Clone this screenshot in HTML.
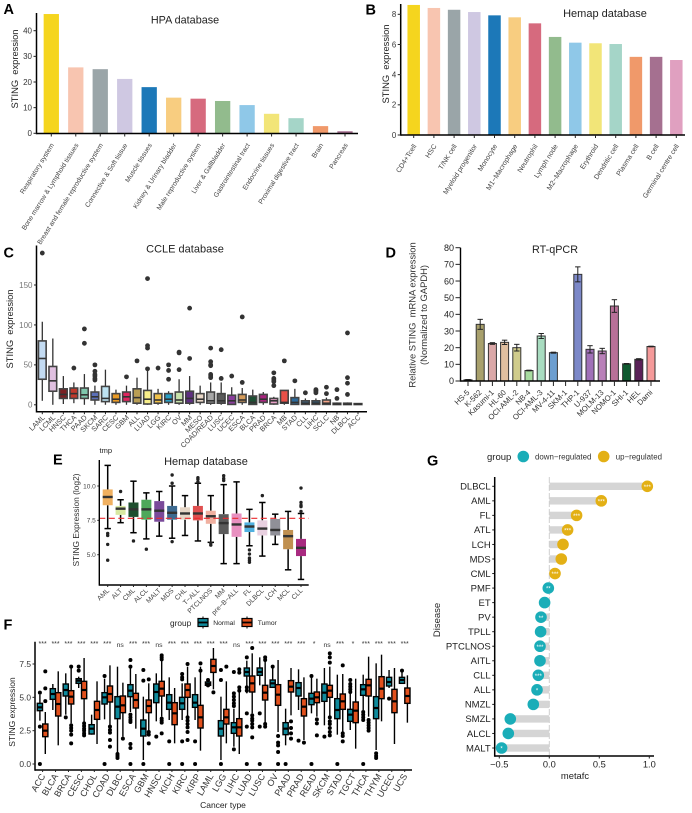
<!DOCTYPE html>
<html lang="en">
<head>
<meta charset="utf-8">
<title>STING expression figure</title>
<style>
html,body{margin:0;padding:0;background:#fff;}
svg{display:block;font-family:"Liberation Sans",Arial,sans-serif;}
.panel-letter{font-size:14.5px;font-weight:bold;fill:#000;}
</style>
</head>
<body>
<svg id="figure" xmlns="http://www.w3.org/2000/svg" width="692" height="813" viewBox="0 0 692 813">
  <rect x="0" y="0" width="692" height="813" fill="#ffffff"/>

  <text class="panel-letter" x="3.5" y="14">A</text>
  <text class="panel-letter" x="365.5" y="14.5">B</text>
  <text class="panel-letter" x="3.5" y="257.5">C</text>
  <text class="panel-letter" x="385.5" y="257.5">D</text>
  <text class="panel-letter" x="53" y="464.5">E</text>
  <text class="panel-letter" x="3.5" y="629.5">F</text>
  <text class="panel-letter" x="427" y="465.5">G</text>

  <g id="panel-a">
    <text x="185" y="23.5" font-size="10.8" fill="#222" text-anchor="middle">HPA database</text>
    <text transform="translate(18,69) rotate(-90)" font-size="9.35" fill="#222" text-anchor="middle" xml:space="preserve">STING  expression</text>
  </g>
  <g id="panel-b">
    <text x="605" y="17" font-size="11" fill="#222" text-anchor="middle">Hemap database</text>
    <text transform="translate(389,64) rotate(-90)" font-size="9.35" fill="#222" text-anchor="middle" xml:space="preserve">STING  expression</text>
  </g>
  <g id="panel-c">
    <text x="185" y="252.7" font-size="11" fill="#222" text-anchor="middle">CCLE database</text>
    <text transform="translate(13,329) rotate(-90)" font-size="9.35" fill="#222" text-anchor="middle" xml:space="preserve">STING  expression</text>
  </g>
  <g id="panel-d">
    <text x="555" y="253" font-size="10.8" fill="#222" text-anchor="middle">RT-qPCR</text>
    <text transform="translate(415.5,315) rotate(-90)" font-size="9.4" fill="#333" text-anchor="middle" xml:space="preserve">Relative STING  mRNA expression</text>
    <text transform="translate(427,315) rotate(-90)" font-size="9.4" fill="#333" text-anchor="middle">(Normalized to GAPDH)</text>
  </g>
  <g id="panel-e">
    <text x="99.5" y="453" font-size="7.5" fill="#222">tmp</text>
    <text x="206" y="465" font-size="11" fill="#222" text-anchor="middle">Hemap database</text>
    <text transform="translate(79,520) rotate(-90)" font-size="8.4" fill="#333" text-anchor="middle">STING Expression (log2)</text>
  </g>
  <g id="panel-f">
    <text x="170" y="626" font-size="8.3" fill="#222">group</text>
    <g>
      <line x1="203" y1="616.5" x2="203" y2="628.5" stroke="#000" stroke-width="1"/>
      <rect x="198" y="618.5" width="10" height="8" fill="#0f8a9c" stroke="#000" stroke-width="1.2"/>
      <line x1="198" y1="622.5" x2="208" y2="622.5" stroke="#000" stroke-width="1.8"/>
      <text x="213.3" y="625" font-size="6.7" fill="#222">Normal</text>
    </g>
    <g>
      <line x1="247" y1="616.5" x2="247" y2="628.5" stroke="#000" stroke-width="1"/>
      <rect x="242" y="618.5" width="10" height="8" fill="#e2501c" stroke="#000" stroke-width="1.2"/>
      <line x1="242" y1="622.5" x2="252" y2="622.5" stroke="#000" stroke-width="1.8"/>
      <text x="257.7" y="625" font-size="6.7" fill="#222">Tumor</text>
    </g>
    <text transform="translate(15,712) rotate(-90)" font-size="8.5" fill="#222" text-anchor="middle">STING expression</text>
    <text x="223" y="808" font-size="8.5" fill="#222" text-anchor="middle">Cancer type</text>
  </g>
  <g id="panel-g">
    <text x="487" y="460" font-size="9.5" fill="#222">group</text>
    <g>
      <circle cx="523.3" cy="456.5" r="5.8" fill="#1aadb8"/>
      <text x="535" y="459.5" font-size="7.9" fill="#333">down−regulated</text>
    </g>
    <g>
      <circle cx="603.7" cy="456.5" r="5.8" fill="#e3b015"/>
      <text x="615.7" y="459.5" font-size="7.9" fill="#333">up−regulated</text>
    </g>
    <text transform="translate(440,620) rotate(-90)" font-size="9.5" fill="#222" text-anchor="middle">Disease</text>
    <text x="575" y="779" font-size="9.4" fill="#222" text-anchor="middle">metafc</text>
  </g>
</svg>

<script>
/* ---------- Panel A data ---------- */
const hpaCategories = ["Respiratory system","Bone marrow & Lymphoid tissues","Breast and female reproductive system","Connective & Soft tissue","Muscle tissues","Kidney & Urinary bladder","Male reproductive system","Liver & Gallbladder","Gastrointestinal tract","Endocrine tissues","Proximal digestive tract","Brain","Pancreas"];
const hpaValues = [46.5,25.7,25,21.2,18,13.9,13.5,12.6,11,7.6,5.9,2.8,0.8];
const hpaTicks = [0,10,20,30,40];

/* ---------- Panel B data ---------- */
const hemapCellCategories = ["CD4+Tcell","HSC","T/NK cell","Myeloid progenitor","Monocyte","M1−Macrophage","Neutrophil","Lymph node","M2−Macrophage","Erythroid","Dendritic cell","Plasma cell","B cell","Germinal centre cell"];
const hemapCellValues = [8.62,8.42,8.3,8.15,7.93,7.8,7.4,6.5,6.12,6.08,6.03,5.18,5.18,4.97];
const hemapCellTicks = [0,2,4,6,8];

/* ---------- Panel C data ---------- */
const ccleCategories = ["LAML","LCML","HNSC","THCA","PAAD","SKCM","SARC","CESC","GBM","ALL","LUAD","LGG","KIRC","OV","MM","MESO","COAD/READ","LUSC","UCEC","ESCA","BLCA","PRAD","BRCA","MB","STAD","CLL","LIHC","SCLC","NB","DLBCL","ACC"];
const ccleWhiskerLow  = [5,0,1,2,0,0,0,0,0,0,0,0,0,0,0,0,0,0,0,0,0,0,0,0,0,0,0,0,0,0,0];
const ccleQ1          = [32,17,8,8,8,6,4,3,4,2,1,2,3,2,2,3,2,2,0.5,3,0.5,3,1,2,0.5,0.5,0.5,0.5,0.3,0.3,0.3];
const ccleMedian      = [58,30,13,14,12.5,10,8,7,10,9,7,6,7,6,8,7,5,5,5,6,3,7,5,3,3,2,2,2,1,0.8,0.8];
const ccleQ3          = [80,48,20,21,21,16,23,14,16,20,18,14,14,16,17,14,16,14,12,13,11,13,8,18,9,5,5,6,2,2,1.5];
const ccleWhiskerHigh = [104,83,36,28,38.5,24,44,19,24,34,45,20,17,32,36,24,28,28,22,21,19,16,10,18,20,8,8,9,3,3,2];
const ccleOutliers    = [[190],[],[],[46],[95,77],[50,42,38,36,33,31],[],[],[35],[55],[158,74,71,45],[46],[50,43,32],[66,65,44],[121,58],[],[71,54,50,49,38,36,34],[69,33],[36],[110,28],[],[],[40,33,31,29,24],[55],[30],[15],[19,18,17,15],[22,14],[19,8],[90,34,27,13],[]];
const ccleTicks = [0,50,100,150];

/* ---------- Panel D data ---------- */
const qpcrCategories = ["HS-5","K-562","Kasumi-1","HL-60","OCI-AML-2","NB-4","OCI-AML-3","MV-4-11","SKM-1","THP-1","U-937","MOLM-13","NOMO-1","SHI-1","HEL","Dami"];
const qpcrValues = [0.7,34,22.5,23.2,20,6.3,27,17,0,64,19,18,45,10.3,13,20.7];
const qpcrErrors = [0.2,3,0.5,1.3,2,0.2,1.5,0.3,0,4.5,2.2,1.6,3.8,0.2,0.4,0.2];
const qpcrTicks = [0,10,20,30,40,50,60,70,80];

/* ---------- Panel E data ---------- */
const hemapCategories = ["AML","ALT","CML","ALCL","MALT","MDS","CHL","T−ALL","PTCLNOS","MM","pre−B−ALL","FL","DLBCL","LCH","MCL","CLL"];
const hemapWhiskerLow  = [6.9,7.33,6.6,6.15,6.35,6.2,6.4,6,5.9,4.35,4.35,5.65,4.9,5.75,3.9,3.2];
const hemapQ1          = [8.6,7.9,7.75,7.55,7.4,7.55,7.55,7.5,7.25,6.5,6.3,6.65,6.4,6.4,5.4,4.9];
const hemapMedian      = [9.2,8.35,8.3,8.3,8.2,8.05,8,8,7.8,7.3,7.2,7.05,6.9,6.8,6.35,5.5];
const hemapQ3          = [9.75,8.55,8.8,9,8.9,8.55,8.45,8.55,8.2,7.95,8,7.35,7.5,7.6,6.8,6.15];
const hemapWhiskerHigh = [11.5,9,10.35,9.5,9.6,10,9.3,10.2,9.3,10.1,10.3,8.3,8.8,7.95,8.15,8];
const hemapOutliers    = [[6.55,6.4,5.75,4.6],[9.6],[6],[5.4],[],[5.95,10.2,10.8],[],[10.6,10.5,10.3],[5.7,5.85],[10.75,10.55,10.4],[],[5.35,5.05,4.75,4.6,4.45],[9.3],[],[],[9.85,8.8,8.6,8.5,8.15]];
const hemapReference = [7.65];
const hemapTicks = [5,7.5,10];
const hemapTickLabels = ["5.0","7.5","10.0"];

/* ---------- Panel F data ---------- */
const tcgaCategories = ["ACC","BLCA","BRCA","CESC","CHOL","COAD","DLBC","ESCA","GBM","HNSC","KICH","KIRC","KIRP","LAML","LGG","LIHC","LUAD","LUSC","OV","PAAD","PRAD","READ","SKCM","STAD","TGCT","THCA","THYM","UCEC","UCS"];
const tcgaSignificance = ["***","***","***","***","***","***","ns","***","***","ns","***","***","***","***","***","ns","***","***","***","***","***","*","ns","***","*","***","***","***","***"];
const normalWhiskerLow  = [3.25,4.05,3.7,5.7,2.2,3.35,0.75,3.9,0.3,3.2,3.3,3.3,3.3,5.85,0.3,1.3,5.3,5.9,5.7,1.4,4.05,3.8,2.9,2.2,2.55,4.05,1.05,5.7,6.05];
const normalQ1          = [4,4.85,5.1,6.05,2.25,4.5,3.4,5.05,2.1,4.6,4.1,4.1,4.25,5.9,2.1,2.3,6.6,6.65,5.75,2.2,5.1,4.45,4.7,3.4,3.2,5.15,3.4,5.85,6.05];
const normalMedian      = [4.25,5.25,5.55,6.25,2.65,5,4.3,5.5,2.65,5.4,4.6,4.55,4.6,6,2.65,2.75,6.9,6.9,6.05,2.65,5.7,4.9,5.35,4.05,3.7,5.6,4.2,6.15,6.3];
const normalQ3          = [4.55,5.65,6,6.4,2.95,5.35,5.05,5.95,3.3,6,5.2,5,5.2,6.15,3.25,3.1,7.2,7.2,6.3,3.1,6.1,5.3,6,4.9,4.1,5.95,5.05,6.5,6.5];
const normalWhiskerHigh = [5.2,6,6.8,6.55,3.7,6.4,7.3,7.3,5.05,6.8,6.5,6.05,6.5,6.3,5.05,4.15,7.75,8,7.2,4.15,7.1,6.55,7.2,6.7,5.3,6.7,7.55,7.05,7];
const normalOutliers    = [[5.35,2.8,0],[],[3.5],[7.3,7],[],[6.6,0],[0.75,0.6,0.45],[7.8,7.3,3.7,3.5,3.3,3.15,1.5,1.2,0],[7.05,6.25,0],[2.05],[1.7,0],[6.75,6.5,6.35,1.7,0],[1.7,0],[6.3,6,5.9],[7.05,6.3,0],[6.9,5.3,5.05,4.8,4.55,4.35,1.1],[8,5.75,5.5,3.8,2.8,0],[3.8,2.8,0],[7.3],[0],[1.75],[6.6,0],[2.05],[0],[6.3,6,5.8,5.6,5.4],[3.9,3.7,3.5,3.3,0],[0.8,0.6,0.45],[4.9],[7]];
const tumorWhiskerLow   = [0.75,1.4,3.05,3.1,1.5,2.9,2.05,2.65,2.4,3.55,1.55,3.55,1,5.6,1.55,0.75,3.8,3,2.4,3.65,1.8,3.55,3.55,2.4,1.15,3.55,3.2,1.5,3.1];
const tumorQ1           = [2.05,3.6,4.5,4.9,3.35,4.65,3.85,4.2,3.85,5.1,2.95,5,2.7,6.87,3,2.1,5.4,4.8,4.4,5.4,3.6,4.6,5,4.1,3.1,5.1,4.9,3.85,4.55];
const tumorMedian       = [2.5,4.5,5.05,5.55,4.05,5.25,4.4,4.8,4.35,5.65,3.8,5.55,3.5,7.35,3.5,2.75,6.05,5.35,5.2,5.8,4.3,5,5.5,4.7,4,5.9,5.65,4.7,5.1];
const tumorQ3           = [3,5.35,5.5,6.2,4.7,5.85,5.1,5.3,4.8,6.2,4.6,6,4.4,7.85,4.1,3.4,6.6,5.9,5.95,6.25,4.9,5.4,5.9,5.25,4.65,6.35,6.55,5.6,5.7];
const tumorWhiskerHigh  = [3.9,6.95,7.3,7.95,6.2,7.4,6.1,6.75,6.05,7.8,5.7,7.3,7.3,8.7,6.2,5.6,8.3,7.7,7.8,7.2,6.5,6.4,7.3,6.75,6.4,8.05,8.2,7.2,6.65];
const tumorOutliers     = [[6.95,5.67,4.72],[],[7.3,2.9,2.7,2.5,2.2,1.55],[3.05,2.85,2.65,2.5,2.3,2.15],[],[2.8,2.55,2.35,1.8,1.3],[1.9],[],[6.35,2.4,2.2,1.55],[8.15,8,7.85,3.4,3.25,3.1,2.3],[],[7.5,3.5,3.25,3,2.75,2.4,1.8],[7.55,7],[5.37],[7.3],[7.1,6.85,5.75,5.5],[8.7,3.65,3.4,3.25,3,2.75,2],[8,7.8,3,2.8],[2.1,1.6,1.4,0.9,0],[6.1,5.9,5.65,3.2,2.7,2.3,1.9],[1.6],[3.35,3.05,2.15],[8.3,8,7.6,3.5,3.2,3,2.7,2.4,2.15],[7.4,2.3,2.1,1.7],[],[3.3,3.1,2.9,2.7,2.5],[],[4.9],[4.9]];
const tcgaTicks = [0,2.5,5,7.5];
const tcgaTickLabels = ["0.0","2.5","5.0","7.5"];

/* ---------- Panel G data ---------- */
const metaDiseases = ["DLBCL","AML","FL","ATL","LCH","MDS","CML","PMF","ET","PV","TPLL","PTCLNOS","AITL","CLL","ALL","NMZL","SMZL","ALCL","MALT"];
const metaValues = [0.98,0.52,0.273,0.183,0.137,0.12,0.057,-0.01,-0.047,-0.083,-0.087,-0.093,-0.093,-0.11,-0.123,-0.16,-0.39,-0.41,-0.477];
const metaSignificance = ["***","***","***","***","","","***","**","","**","","***","","***","*","","","","*"];
const metaTicks = [-0.5,0,0.5,1];
const metaTickLabels = ["−0.5","0.0","0.5","1.0"];

/* ---------- Palettes (styling only) ---------- */
const barPalette = ["#f5d51e","#f8c5b0","#9aa5a8","#cfc8e2","#1c78b8","#f8cd80","#d66a7e","#92bb8d","#8fc8e8","#f2e578","#a5d5c8","#f0996a","#a57090","#e0a0c0"];
const cclePalette = ["#c3dbf2","#e0c0e0","#7a1f22","#c0392b","#7fc7ad","#5b6fb8","#bde3f2","#e99a25","#e0265f","#b89e55","#f7ee8a","#f0c24a","#2a9fc5","#c8e2aa","#5e2f80","#ead8c8","#a6a6a6","#5a5a5a","#8a3d9c","#d59b5a","#1d4f33","#a8247e","#e8a0c8","#e85048","#2b6a9c","#3d6a8a","#2d5a7a","#f5a488","#555","#555","#555"];
const qpcrPalette = ["#222","#a8a06c","#dba8a8","#e0bfa0","#d0cc8c","#a8dca0","#a8dcc0","#6c9ed0","#fff","#7c88c8","#a070b8","#b880b8","#b87098","#0f5a30","#5a2058","#f59a9a"];
const hemapPalette = ["#f0b060","#d8e8a0","#1f4f2f","#4ea85a","#7a4a9a","#3d6a90","#e6d6c6","#e05050","#f0b0a0","#5a5a5a","#e890c0","#50b0e0","#e8d0e0","#909098","#c09050","#a82a80"];

/* ---------- Helpers ---------- */
const NS = "http://www.w3.org/2000/svg";
function linearScale(d0, d1, r0, r1) {
  return function (v) { return r0 + (v - d0) * (r1 - r0) / (d1 - d0); };
}
function bandScale(count, first, last) {
  return function (i) { return count > 1 ? first + i * (last - first) / (count - 1) : first; };
}
function mk(parent, tag, attrs) {
  const n = document.createElementNS(NS, tag);
  for (const k in attrs) n.setAttribute(k, attrs[k]);
  parent.appendChild(n);
  return n;
}
function addLine(parent, x1, y1, x2, y2, stroke, width, name) {
  const el = mk(parent, "line", { x1: x1, y1: y1, x2: x2, y2: y2, stroke: stroke, "stroke-width": width });
  
  
  return el;
}
function addRect(parent, x, y, w, h, fill, stroke, sw, name) {
  const el = mk(parent, "rect", { x: x, y: y, width: w, height: Math.max(h, 0), fill: fill, stroke: stroke, "stroke-width": sw });
  
  
  return el;
}
function addDot(parent, cx, cy, r, fill, name) {
  const el = mk(parent, "circle", { cx: cx, cy: cy, r: r, fill: fill });
  
  
  return el;
}
function addText(parent, x, y, str, size, fill, anchor, rot, name) {
  const el = mk(parent, "text", { x: x, y: y, "font-size": size, fill: fill, "text-anchor": anchor });
  if (rot) el.setAttribute("transform", "rotate(" + rot + " " + x + " " + y + ")");
  el.textContent = str;
  
  
  return el;
}
function slug(s) { return String(s).toLowerCase().replace(/[^a-z0-9]+/g, "-"); }

/* Axis drawing */
function drawAxes(g, o, yScale, ticks, labels, xPos, cats) {
  addLine(g, o.x0, o.yTop, o.x0, o.y0 + o.lw / 2, "#000", o.lw, o.key + "-y-axis-line");
  addLine(g, o.x0, o.y0, o.x1, o.y0, "#000", o.lw, o.key + "-x-axis-line");
  ticks.forEach(function (t, i) {
    const y = yScale(t);
    addLine(g, o.x0 - o.tick, y, o.x0, y, "#222", 1, o.key + "-y-tick-mark");
    addText(g, o.x0 - o.tick - 1.5, y + o.tickFont * 0.36, labels ? labels[i] : t, o.tickFont, o.tickFill, "end", 0, o.key + "-y-tick-label");
  });
  cats.forEach(function (c, i) {
    const x = xPos(i);
    addLine(g, x, o.y0, x, o.y0 + o.xTick, "#222", 1, o.key + "-x-tick-mark");
    addText(g, x + o.labDx, o.labY, c, o.labFont, o.labFill, "end", o.labRot, o.key + "-label-" + slug(c));
  });
}

function drawBarPanel(g, o, cats, vals, yScale, xPos, ticks) {
  vals.forEach(function (v, i) {
    const y = yScale(v);
    addRect(g, xPos(i) - o.barW / 2, y, o.barW, yScale(0) - y, barPalette[i], "none", 0, o.key + "-bar-" + slug(cats[i]));
  });
  drawAxes(g, o, yScale, ticks, null, xPos, cats);
}

/* One box glyph */
function drawBox(g, x, w, s, yScale, st, name) {
  addLine(g, x, yScale(s.low), x, yScale(s.q1), st.whisker, st.whiskerW, name + "-lower-whisker");
  addLine(g, x, yScale(s.q3), x, yScale(s.high), st.whisker, st.whiskerW, name + "-upper-whisker");
  if (st.cap) {
    addLine(g, x - st.cap, yScale(s.low), x + st.cap, yScale(s.low), st.whisker, st.whiskerW, name + "-lower-cap");
    addLine(g, x - st.cap, yScale(s.high), x + st.cap, yScale(s.high), st.whisker, st.whiskerW, name + "-upper-cap");
  }
  (s.out || []).forEach(function (v) {
    addDot(g, x, yScale(v), st.r, st.dot, name + "-outlier");
  });
  addRect(g, x - w / 2, yScale(s.q3), w, yScale(s.q1) - yScale(s.q3), s.fill, st.edge, st.edgeW, name + "-box");
  addLine(g, x - w / 2, yScale(s.med), x + w / 2, yScale(s.med), st.median, st.medianW, name + "-median");
}

/* ---------- Panel A ---------- */
(function () {
  const g = document.getElementById("panel-a");
  const o = { key: "hpa", x0: 36.5, x1: 358, y0: 133.5, yTop: 13, lw: 1.5, tick: 3, xTick: 3, tickFont: 8, tickFill: "#333", labDx: 3, labY: 145, labFont: 6.8, labFill: "#444", labRot: -58, barW: 15.3 };
  const yScale = linearScale(0, 40, 133.3, 30.7);
  const xPos = bandScale(hpaCategories.length, 51.3, 345);
  drawBarPanel(g, o, hpaCategories, hpaValues, yScale, xPos, hpaTicks);
})();

/* ---------- Panel B ---------- */
(function () {
  const g = document.getElementById("panel-b");
  const o = { key: "hemap-cell", x0: 400.7, x1: 685, y0: 135, yTop: 4, lw: 1.5, tick: 3, xTick: 3, tickFont: 7.8, tickFill: "#333", labDx: 3, labY: 146, labFont: 7, labFill: "#444", labRot: -58, barW: 12.5 };
  const yScale = linearScale(0, 8, 135, 14.3);
  const xPos = bandScale(hemapCellCategories.length, 413.7, 676.3);
  drawBarPanel(g, o, hemapCellCategories, hemapCellValues, yScale, xPos, hemapCellTicks);
})();

/* ---------- Panel C ---------- */
(function () {
  const g = document.getElementById("panel-c");
  const o = { key: "ccle", x0: 36.5, x1: 367, y0: 411.7, yTop: 245.5, lw: 1.5, tick: 2.5, xTick: 2.5, tickFont: 8, tickFill: "#777", labDx: 3, labY: 418, labFont: 7.2, labFill: "#444", labRot: -45 };
  const yScale = linearScale(0, 150, 404.8, 285);
  const xPos = bandScale(ccleCategories.length, 42.3, 358);
  const st = { whisker: "#333", whiskerW: 1.3, edge: "#444", edgeW: 1.6, median: "#333", medianW: 1.6, dot: "#333", r: 2.4 };
  ccleCategories.forEach(function (c, i) {
    drawBox(g, xPos(i), 7.7, { low: ccleWhiskerLow[i], q1: ccleQ1[i], med: ccleMedian[i], q3: ccleQ3[i], high: ccleWhiskerHigh[i], out: ccleOutliers[i], fill: cclePalette[i] }, yScale, st, "ccle-" + slug(c));
  });
  drawAxes(g, o, yScale, ccleTicks, null, xPos, ccleCategories);
})();

/* ---------- Panel D ---------- */
(function () {
  const g = document.getElementById("panel-d");
  const o = { key: "qpcr", x0: 460.5, x1: 660, y0: 381, yTop: 247.7, lw: 1.4, tick: 5, xTick: 5, tickFont: 9, tickFill: "#222", labDx: 2, labY: 393, labFont: 7.7, labFill: "#333", labRot: -45 };
  const yScale = linearScale(0, 80, 381, 247.7);
  const xPos = bandScale(qpcrCategories.length, 468, 651);
  qpcrValues.forEach(function (v, i) {
    const x = xPos(i);
    const nm = "qpcr-" + slug(qpcrCategories[i]);
    if (v > 0) addRect(g, x - 4, yScale(v), 8, yScale(0) - yScale(v), qpcrPalette[i], "#333", 1, nm + "-bar");
    if (qpcrErrors[i] > 0) {
      addLine(g, x, yScale(v - qpcrErrors[i]), x, yScale(v + qpcrErrors[i]), "#222", 1, nm + "-error-bar");
      addLine(g, x - 2.7, yScale(v + qpcrErrors[i]), x + 2.7, yScale(v + qpcrErrors[i]), "#222", 1, nm + "-error-cap-upper");
      addLine(g, x - 2.7, yScale(v - qpcrErrors[i]), x + 2.7, yScale(v - qpcrErrors[i]), "#222", 1, nm + "-error-cap-lower");
    }
  });
  drawAxes(g, o, yScale, qpcrTicks, null, xPos, qpcrCategories);
})();

/* ---------- Panel E ---------- */
(function () {
  const g = document.getElementById("panel-e");
  const o = { key: "hemap-disease", x0: 99.3, x1: 308.7, y0: 585, yTop: 460, lw: 1.4, tick: 2, xTick: 2, tickFont: 6.5, tickFill: "#444", labDx: 2, labY: 591, labFont: 6.8, labFill: "#444", labRot: -45 };
  const yScale = linearScale(5, 10, 554.7, 486);
  const xPos = bandScale(hemapCategories.length, 107.7, 301);
  const st = { whisker: "#000", whiskerW: 1.5, cap: 3.2, edge: "none", edgeW: 0, median: "#333", medianW: 2.4, dot: "#222", r: 1.7 };
  hemapCategories.forEach(function (c, i) {
    drawBox(g, xPos(i), 10, { low: hemapWhiskerLow[i], q1: hemapQ1[i], med: hemapMedian[i], q3: hemapQ3[i], high: hemapWhiskerHigh[i], out: hemapOutliers[i], fill: hemapPalette[i] }, yScale, st, "hemap-" + slug(c));
  });
  const ref = addLine(g, o.x0, yScale(hemapReference[0]), o.x1, yScale(hemapReference[0]), "#ea2a2e", 1.2, "hemap-reference-dashed-line");
  ref.setAttribute("stroke-dasharray", "6 3.5");
  drawAxes(g, o, yScale, hemapTicks, hemapTickLabels, xPos, hemapCategories);
})();

/* ---------- Panel F ---------- */
(function () {
  const g = document.getElementById("panel-f");
  const o = { key: "tcga", x0: 35, x1: 412, y0: 770, yTop: 641.7, lw: 1.5, tick: 2.5, xTick: 2, tickFont: 8.4, tickFill: "#333", labDx: 3, labY: 776, labFont: 9, labFill: "#333", labRot: -60 };
  const yScale = linearScale(0, 7.5, 764, 664);
  const xPos = bandScale(tcgaCategories.length, 42.6, 404.7);
  const st = { whisker: "#000", whiskerW: 1.4, edge: "#000", edgeW: 1.4, median: "#000", medianW: 2.2, dot: "#000", r: 2 };
  tcgaCategories.forEach(function (c, i) {
    const x = xPos(i);
    drawBox(g, x - 2.7, 5.2, { low: normalWhiskerLow[i], q1: normalQ1[i], med: normalMedian[i], q3: normalQ3[i], high: normalWhiskerHigh[i], out: normalOutliers[i], fill: "#0f8a9c" }, yScale, st, "tcga-normal-" + slug(c));
    drawBox(g, x + 2.7, 5.2, { low: tumorWhiskerLow[i], q1: tumorQ1[i], med: tumorMedian[i], q3: tumorQ3[i], high: tumorWhiskerHigh[i], out: tumorOutliers[i], fill: "#e2501c" }, yScale, st, "tcga-tumor-" + slug(c));
    const sig = tcgaSignificance[i];
    addText(g, x, sig === "ns" ? 647 : 646, sig, sig === "ns" ? 6.8 : 7, "#333", "middle", 0, "tcga-significance-" + slug(c));
  });
  drawAxes(g, o, yScale, tcgaTicks, tcgaTickLabels, xPos, tcgaCategories);
})();

/* ---------- Panel G ---------- */
(function () {
  const g = document.getElementById("panel-g");
  const xScale = linearScale(0, 1, 549.3, 649.3);
  const rowY = bandScale(metaDiseases.length, 486.3, 748);
  const x0 = 494.7, yTop = 477, y0 = 756, x1 = 654;
  metaValues.forEach(function (v, i) {
    const a = Math.min(xScale(0), xScale(v));
    const b = Math.max(xScale(0), xScale(v));
    addRect(g, a, rowY(i) - 3.7, b - a, 7.4, "#d5d5d5", "none", 0, "metafc-bar-" + slug(metaDiseases[i]));
  });
  const zero = addLine(g, xScale(0), yTop, xScale(0), y0, "#cfcfcf", 1, "metafc-zero-reference-line");
  zero.setAttribute("stroke-dasharray", "6 2");
  metaValues.forEach(function (v, i) {
    const name = slug(metaDiseases[i]);
    addDot(g, xScale(v), rowY(i), 5.8, v >= 0 ? "#e3b015" : "#1aadb8", "metafc-point-" + name);
    if (metaSignificance[i]) {
      addText(g, xScale(v), rowY(i) + 2.6, metaSignificance[i], 6, "#ffffff", "middle", 0, "metafc-significance-" + name);
    }
    addLine(g, x0 - 2.5, rowY(i), x0, rowY(i), "#222", 1, "metafc-y-tick-mark");
    addText(g, x0 - 4, rowY(i) + 3.3, metaDiseases[i], 9.5, "#222", "end", 0, "metafc-label-" + name);
  });
  addLine(g, x0, yTop, x0, y0 + 0.7, "#000", 1.5, "metafc-y-axis-line");
  addLine(g, x0, y0, x1, y0, "#000", 1.5, "metafc-x-axis-line");
  metaTicks.forEach(function (t, i) {
    addLine(g, xScale(t), y0, xScale(t), y0 + 2.5, "#222", 1, "metafc-x-tick-mark");
    addText(g, xScale(t), 767.5, metaTickLabels[i], 9.3, "#222", "middle", 0, "metafc-x-tick-label");
  });
})();
</script>
</body>
</html>
